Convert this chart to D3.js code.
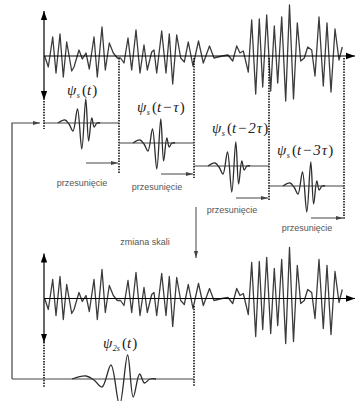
<!DOCTYPE html>
<html>
<head>
<meta charset="utf-8">
<script src="https://cdn.jsdelivr.net/npm/d3@7"></script>
<style>
  body { margin: 0; background: #fff; }
  svg { display: block; }
  .note { font-family: "Liberation Sans", Arial, sans-serif; font-size: 9px; fill: #555; }
  .math { font-family: "Liberation Serif", "Times New Roman", serif; font-size: 15px; fill: #222; }
</style>
</head>
<body>
<div id="chart"></div>
<script>
// analysed signal: time (from axis origin) and amplitude
const sigT = [0.7, 4.3, 8.7, 12, 16, 19.3, 22.7, 27.7, 30, 35, 38.3, 42, 45.3, 50, 53.3, 58, 61.3, 65.3,
  69.3, 73.3, 76.5, 80, 84, 87.7, 92, 96, 100, 103.3, 107.7, 110, 112.7, 117.7, 122, 125.3, 128.7,
  132.7, 136.7, 140.3, 144.3, 149, 154.5, 159.3, 165.5, 170, 174, 178, 184, 188.7, 192.7, 196, 199.3,
  204.3, 207.7, 211.7, 215.3, 218.7, 222.7, 226.7, 230.3, 233.7, 237.7, 241.7, 245.5, 249.5, 253.3,
  256.7, 260.3, 263.7, 267.7, 271, 275, 279.3, 283, 287, 291, 295, 298.3];
const sigA = [0, -11, 19, -17, 22, -21, 14, -15, -11, 6, -3, 3, -13, 19, -21, 29, -14, 13,
  3, -2, -2, -7, 18, -14, 26, -17, 11, -14, 4, 6, -17, 25, -17, 22, -28,
  21, -2, -6, 14, -10, 15, -7, 10, -2, -1, 0, 1, -5, 10, 3, 5,
  -16, 36, -38, 37, -31, 41, -35, 30, -27, 39, -45, 51, -43, 33,
  -5, -2, 9, 6, -20, 39, -30, 33, -36, 27, -4, 9];

// mother wavelet: time offset from its centre and amplitude
const waveT = [-26, -19, -15, -11, -6.5, -2.2, 1.8, 4.6, 7.8, 10.2, 13, 16];
const waveA = [0, 3, -1, -8, 14, -26, 24, -18, 5, -4, 0, 0];

const tau = 75;               // shift step
const waveCentre = 40;        // wavelet centre at zero shift
const shifts = [0, 1, 2, 3];
const shiftArgs = ['t', 't\u2212\u03c4', 't\u22122\u03c4', 't\u22123\u03c4'];
const scaleArgs = ['s', '2s'];
const moveText = 'przesunięcie';
const scaleText = 'zmiana skali';

const width = 355, height = 401;

// layout
const blockBase = [123, 143, 166, 186];
const moveArrowY = [163, 174, 198, 218];
const moveTextY = [186, 190, 213, 231];
const dottedEnd = [173, 178, 201, 220];
const labelY = [95, 112, 133, 155];
const labelX = [67, 137, 212, 277];

const svg = d3.select('#chart').append('svg')
  .attr('width', width)
  .attr('height', height);

const defs = svg.append('defs');
defs.append('marker')
  .attr('id', 'big')
  .attr('viewBox', '0 0 10 10')
  .attr('refX', 10).attr('refY', 5)
  .attr('markerWidth', 9).attr('markerHeight', 9)
  .attr('markerUnits', 'userSpaceOnUse')
  .attr('orient', 'auto')
  .append('path').attr('d', 'M0,1.5L10,5L0,8.5Z').attr('fill', '#000');
defs.append('marker')
  .attr('id', 'small')
  .attr('viewBox', '0 0 10 10')
  .attr('refX', 10).attr('refY', 5)
  .attr('markerWidth', 7).attr('markerHeight', 7)
  .attr('markerUnits', 'userSpaceOnUse')
  .attr('orient', 'auto')
  .append('path').attr('d', 'M0,2L10,5L0,8Z').attr('fill', '#444');

const x = d3.scaleLinear().domain([0, 311]).range([44, 355]);
const signal = sigT.map((t, i) => ({ t: t, a: sigA[i] }));
const wave = waveT.map((t, i) => ({ t: t, a: waveA[i] }));

function line(g, x1, y1, x2, y2) {
  return g.append('line').attr('x1', x1).attr('y1', y1).attr('x2', x2).attr('y2', y2);
}

function dotted(x0, y1, y2) {
  line(svg, x0, y1, x0, y2)
    .attr('stroke', '#111')
    .attr('stroke-width', 1.6)
    .attr('stroke-dasharray', '1.5,1.2');
}

// signal with its axes, drawn at a given baseline
function drawSignal(base) {
  const y = d3.scaleLinear().domain([-50, 50]).range([base + 50, base - 50]);
  const g = svg.append('g');

  g.append('path')
    .datum(signal)
    .attr('fill', 'none')
    .attr('stroke', '#3c3c3c')
    .attr('stroke-width', 1.3)
    .attr('stroke-linejoin', 'round')
    .attr('d', d3.line().x(d => x(d.t)).y(d => y(d.a)));

  line(g, x(0), y(0), x(311), y(0))
    .attr('stroke', '#000').attr('stroke-width', 1.2)
    .attr('marker-end', 'url(#big)');
  line(g, x(0), y(0), x(0), y(45))
    .attr('stroke', '#000').attr('stroke-width', 1.2)
    .attr('marker-end', 'url(#big)');
  line(g, x(0), y(0), x(0), y(-44))
    .attr('stroke', '#000').attr('stroke-width', 1.2)
    .attr('marker-end', 'url(#big)');
  return y;
}

function drawWave(centreT, stretch, base, x0, x1) {
  const wx = d3.scaleLinear().domain([0, 1]).range([x(centreT), x(centreT) + stretch]);
  const wy = d3.scaleLinear().domain([-50, 50]).range([base + 50, base - 50]);
  line(svg, x0, base, x1, base)
    .attr('stroke', '#444').attr('stroke-width', 1.2);
  svg.append('path')
    .datum(wave)
    .attr('fill', 'none')
    .attr('stroke', '#2e2e2e')
    .attr('stroke-width', 1.3)
    .attr('d', d3.line().curve(d3.curveCatmullRom.alpha(0.5)).x(d => wx(d.t)).y(d => wy(d.a)));
}

function mathLabel(lx, ly, sub, arg) {
  const t = svg.append('text').attr('class', 'math').attr('x', lx).attr('y', ly);
  t.append('tspan').attr('font-style', 'italic').text('\u03c8');
  t.append('tspan').attr('font-style', 'italic').attr('font-size', 8).attr('dy', 3).attr('dx', 0.5).text(sub);
  t.append('tspan').attr('dy', -3).attr('dx', 2).text('(');
  t.append('tspan').attr('font-style', 'italic').attr('letter-spacing', 1).text(arg);
  t.append('tspan').text(')');
}

drawSignal(56);

// shifted wavelets
shifts.forEach((k, i) => {
  const left = x(k * tau), right = x((k + 1) * tau);
  dotted(right, 58, dottedEnd[i]);
  drawWave(waveCentre + k * tau, 1, blockBase[i], left, right);
  mathLabel(labelX[i], labelY[i], scaleArgs[0], shiftArgs[i]);

  line(svg, right - 33, moveArrowY[i], right - 1, moveArrowY[i])
    .attr('stroke', '#444').attr('stroke-width', 1)
    .attr('marker-end', 'url(#small)');
  svg.append('text').attr('class', 'note')
    .attr('x', right - 37).attr('y', moveTextY[i])
    .attr('text-anchor', 'middle')
    .text(moveText);
});
dotted(x(0), 101, 129);

// rescaling step
svg.append('text').attr('class', 'note')
  .attr('x', 145).attr('y', 245)
  .attr('text-anchor', 'middle')
  .text(scaleText);
line(svg, 196, 207, 196, 258)
  .attr('stroke', '#444').attr('stroke-width', 1)
  .attr('marker-end', 'url(#small)');

drawSignal(298.5);
dotted(x(0), 342, 387);
dotted(x(2 * tau), 306, 387);

// dilated wavelet
drawWave(2 * waveCentre, 2, 379, 12, x(2 * tau));
mathLabel(103, 348, scaleArgs[1], shiftArgs[0]);

// loop back to the shifting step
svg.append('path')
  .attr('d', 'M12,379V123H40')
  .attr('fill', 'none')
  .attr('stroke', '#444').attr('stroke-width', 1.2)
  .attr('marker-end', 'url(#small)');
</script>
</body>
</html>
